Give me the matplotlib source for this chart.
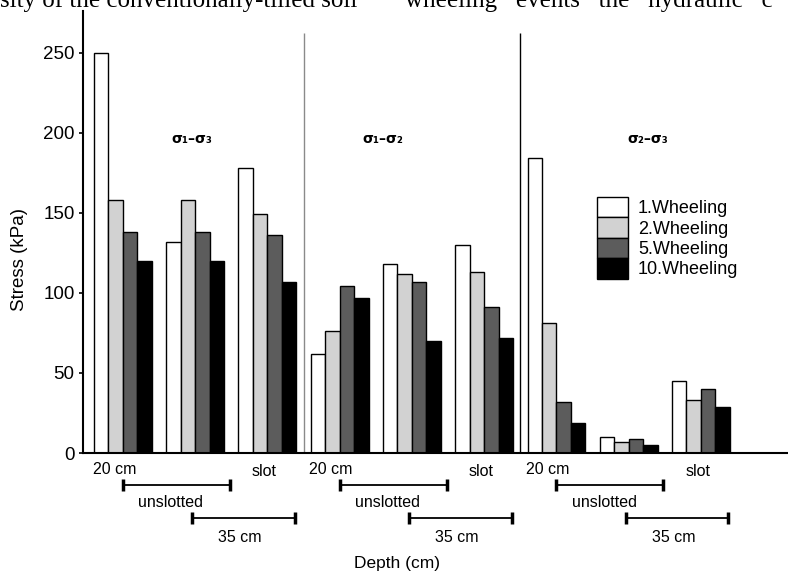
"""Stress under repeated wheeling at three depths, slotted vs unslotted soil."""

import matplotlib
matplotlib.use('Agg')
import matplotlib.pyplot as plt
from matplotlib.patches import Patch

plt.rcParams['font.family'] = ['Liberation Sans', 'DejaVu Sans']

# the three stress differences, each with 20 cm, 35 cm unslotted, 35 cm slot
PANELS = ['σ₁–σ₃', 'σ₁–σ₂', 'σ₂–σ₃']
WHEELINGS = ['1.Wheeling', '2.Wheeling', '5.Wheeling', '10.Wheeling']

wheel_1 = [250, 132, 178, 62, 118, 130, 184, 10, 45]
wheel_2 = [158, 158, 149, 76, 112, 113, 81, 7, 33]
wheel_5 = [138, 138, 136, 104, 107, 91, 32, 9, 40]
wheel_10 = [120, 120, 107, 97, 70, 72, 19, 5, 29]

YTICKS = [0, 50, 100, 150, 200, 250]
DEPTH_TEXT = ['20 cm', 'unslotted', 'slot', '35 cm']
HEADER_LEFT = 'sity of the conventionally-tilled soil'
HEADER_RIGHT = 'wheeling   events   the   hydraulic   c'

COLORS = ['white', '#d2d2d2', '#5c5c5c', 'black']


def make_plot(name):
    series = [wheel_1, wheel_2, wheel_5, wheel_10]
    fig = plt.figure(figsize=(7.88, 5.76), dpi=100)
    ax = fig.add_axes([83 / 788, 123 / 576, 713 / 788, 442 / 576])

    # 9 clusters of 4 bars, one bar width gap between clusters
    for j, vals in enumerate(series):
        xs = [5 * i + j + 0.5 for i in range(len(vals))]
        ax.bar(xs, vals, width=1.0, color=COLORS[j], edgecolor='black',
               linewidth=1.0, label=WHEELINGS[j])

    ax.set_xlim(-0.76, 48.58)
    ax.set_ylim(0, 276)
    ax.set_xticks([])
    ax.set_yticks(YTICKS)
    ax.tick_params(axis='y', direction='out', length=3, width=1.2,
                   labelsize=13.5, pad=3)
    for side in ['top', 'right']:
        ax.spines[side].set_visible(False)
    ax.spines['left'].set_linewidth(1.5)
    ax.spines['bottom'].set_linewidth(1.5)

    # panel separators
    ax.vlines([14.5, 29.5], 0, 262, colors=['#8a8a8a', 'black'],
              linewidth=1.0)

    label_x = [6.8, 20.0, 38.3]
    for k, txt in enumerate(PANELS):
        ax.text(label_x[k], 196, txt, ha='center', va='center',
                fontsize=10, fontweight='bold', family='DejaVu Sans')

    # depth annotations under every panel
    for g in range(3):
        s = 15 * g
        ax.text(s + 1.4, -10, DEPTH_TEXT[0], ha='center', va='center',
                fontsize=11.5, clip_on=False)
        ax.text(s + 5.3, -30.6, DEPTH_TEXT[1], ha='center', va='center',
                fontsize=11.5, clip_on=False)
        ax.text(s + 11.8, -11.5, DEPTH_TEXT[2], ha='center', va='center',
                fontsize=11.5, clip_on=False)
        ax.text(s + 10.1, -53, DEPTH_TEXT[3], ha='center', va='center',
                fontsize=11.5, clip_on=False)
        for x0, x1, y in [(s + 2.0, s + 9.4, -20.0),
                          (s + 6.8, s + 13.9, -40.6)]:
            ax.plot([x0, x1], [y, y], color='black', lw=1.3, clip_on=False)
            for xe in (x0, x1):
                ax.plot([xe, xe], [y - 3.8, y + 3.8], color='black', lw=2.5,
                        clip_on=False, solid_capstyle='butt')

    ax.set_xlabel('Depth (cm)', fontsize=12.5)
    ax.xaxis.set_label_coords(0.44, -0.233)
    ax.set_ylabel('Stress (kPa)', fontsize=13.5)
    ax.yaxis.set_label_coords(-0.077, 0.437)

    handles = [Patch(facecolor=c, edgecolor='black', linewidth=1.0)
               for c in COLORS]
    ax.legend(handles, WHEELINGS, loc='upper left',
              bbox_to_anchor=(597 / 788, 1 - 197 / 576),
              bbox_transform=fig.transFigure, frameon=False, fontsize=13,
              handlelength=1.72, handleheight=1.36, handletextpad=0.55,
              labelspacing=0.0, borderpad=0, borderaxespad=0)

    # scrap of the page text above the figure, cut by the top edge
    fig.text(0.0, 1 - 7 / 576, HEADER_LEFT, ha='left', va='baseline',
             fontsize=18, family='Liberation Serif')
    fig.text(405 / 788, 1 - 7 / 576, HEADER_RIGHT, ha='left',
             va='baseline', fontsize=18, family='Liberation Serif')

    fig.savefig(name)


if __name__ == '__main__':
    make_plot('out.png')
